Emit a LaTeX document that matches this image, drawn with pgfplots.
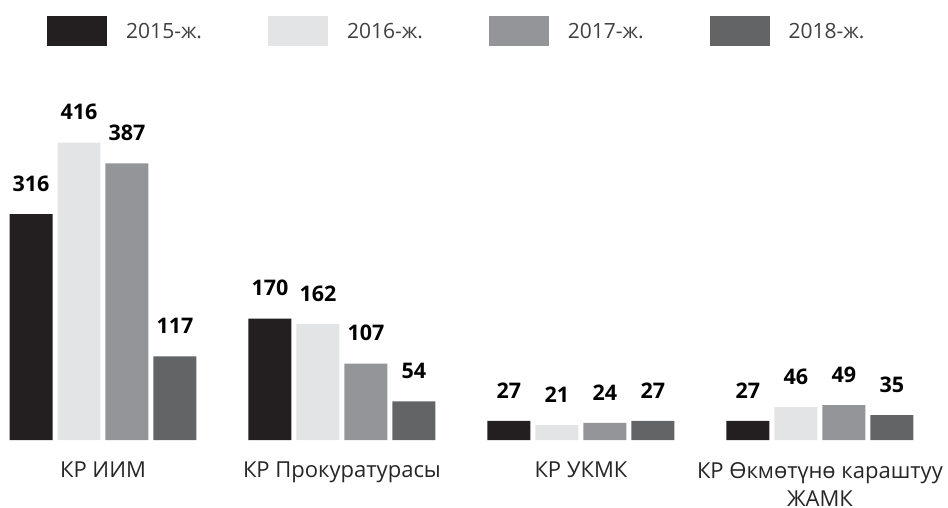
\documentclass[border=0pt]{standalone}
\usepackage{fontspec}
\setmainfont{Open Sans}
\usepackage{pgfplots}
\pgfplotsset{compat=1.18}
\definecolor{c15}{HTML}{231F20}
\definecolor{c16}{HTML}{E3E4E5}
\definecolor{c17}{HTML}{939598}
\definecolor{c18}{HTML}{636466}
\begin{document}
\begin{tikzpicture}
\begin{axis}[x=239pt,y=0.715pt,
  xmin=-0.431,xmax=3.536,ymin=0,ymax=615.4,
  clip=false,axis line style={draw=none},major tick length=0pt,
  ytick=\empty,xtick={0,1,2,3},
  xticklabels={КР ИИМ,КР Прокуратурасы,КР УКМК,КР Өкмөтүнө караштуу\\ЖАМК},
  xticklabel style={font=\fontsize{22}{28}\selectfont,align=center,text=black!85,
    inner sep=1pt,yshift=-21pt},
  /pgf/number format/assume math mode=true,
  ybar=5pt,bar width=43pt,
  nodes near coords,
  every node near coord/.append style={font=\fontsize{21.5}{24}\selectfont\bfseries,yshift=19pt},
  legend columns=4,
  legend style={draw=none,at={(rel axis cs:0.0496,0.929)},anchor=west,
    inner sep=0pt,font=\fontsize{21}{24}\selectfont\color{black!75},
    /tikz/every even column/.append style={column sep=64pt}},
  legend image code/.code={\fill[#1] (0pt,-15pt) rectangle (60pt,15pt);},
  legend cell align=left]
\addplot[draw=none,fill=c15] coordinates {(0,316) (1,170) (2,27) (3,27)};
\addplot[draw=none,fill=c16] coordinates {(0,416) (1,162) (2,21) (3,46)};
\addplot[draw=none,fill=c17] coordinates {(0,387) (1,107) (2,24) (3,49)};
\addplot[draw=none,fill=c18] coordinates {(0,117) (1,54) (2,27) (3,35)};
\legend{\hspace{17pt}2015-ж.,\hspace{17pt}2016-ж.,\hspace{17pt}2017-ж.,\hspace{17pt}2018-ж.}
\path (axis cs:-0.431,-93.7) rectangle (axis cs:3.536,615.4);
\end{axis}
\end{tikzpicture}
\end{document}
